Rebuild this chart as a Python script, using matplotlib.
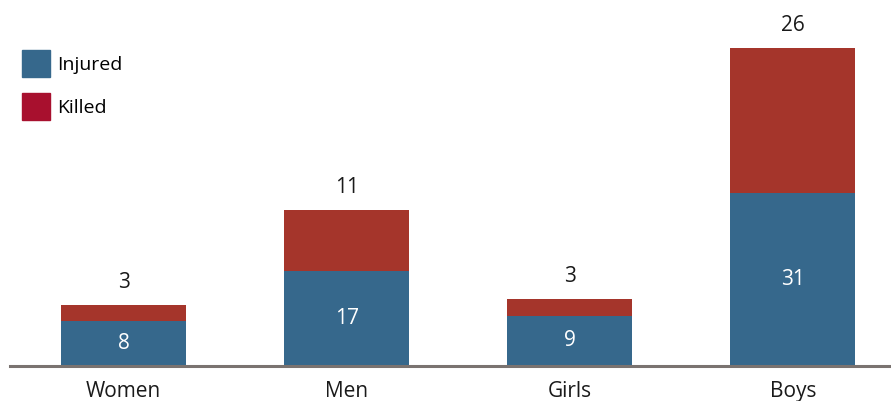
import numpy as np
import matplotlib.pyplot as plt
from matplotlib.patches import Patch

categories = ["Women", "Men", "Girls", "Boys"]
injured = [8, 17, 9, 31]
killed = [3, 11, 3, 26]

blue = "#36688c"
red = "#a5352b"
legend_red = "#a8102e"

plt.rcParams['font.family'] = ['Open Sans', 'DejaVu Sans']

fig = plt.figure(figsize=(8.91, 4.01), dpi=100)
ax = fig.add_axes([10/891, 35/401, 881/891, 366/401])

x = np.arange(len(categories))
w = 0.56
ax.bar(x, injured, w, color=blue)
ax.bar(x, killed, w, bottom=injured, color=red)

for i in range(len(categories)):
    ax.text(x[i], injured[i]/2, str(injured[i]), ha='center', va='center',
            color='white', fontsize=15)
    ax.text(x[i], injured[i] + killed[i] + 4.0, str(killed[i]), ha='center',
            va='center', color='#1a1a1a', fontsize=15)

ax.set_xlim(-0.509, 3.44)
ax.set_ylim(0, 366/5.58)
for s in ['top', 'right', 'left']:
    ax.spines[s].set_visible(False)
ax.spines['bottom'].set_color('#7a7370')
ax.spines['bottom'].set_linewidth(2.2)
ax.set_yticks([])
ax.set_xticks(x)
ax.set_xticklabels(categories, fontsize=15, color='#1a1a1a')
ax.tick_params(axis='x', length=0, pad=11)

handles = [Patch(color=blue, label='Injured'), Patch(color=legend_red, label='Killed')]
fig.legend(handles=handles, loc='upper left', bbox_to_anchor=(22/891, 1 - 50/401),
           frameon=False, fontsize=14, handlelength=1.45, handleheight=1.75,
           handletextpad=0.35, labelspacing=0.85, borderpad=0, borderaxespad=0)

fig.savefig('out.png', dpi=100)
